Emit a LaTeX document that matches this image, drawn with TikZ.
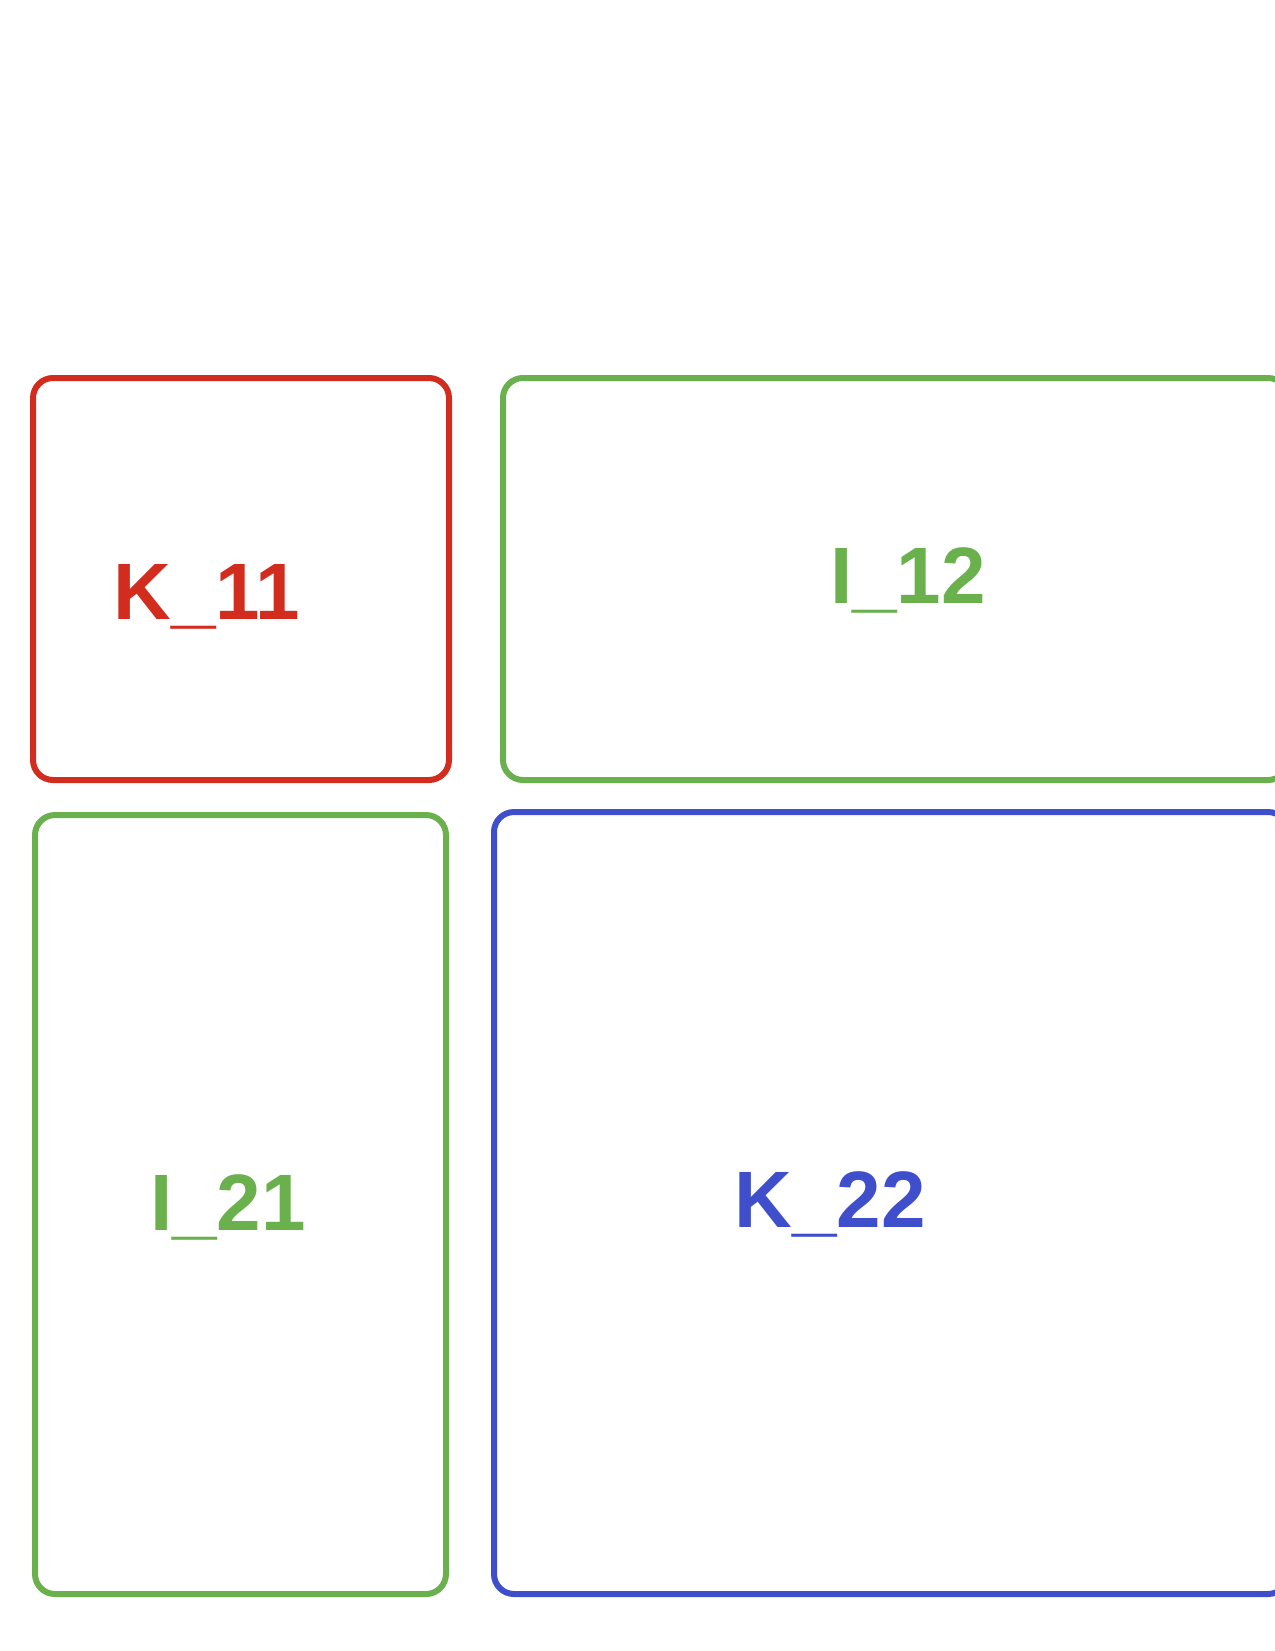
\documentclass[tikz,border=0pt]{standalone}
\usepackage{fontspec}
\setmainfont{Liberation Sans}
\usepackage{tikz}

\definecolor{blockred}{RGB}{210, 44, 31}
\definecolor{blockgreen}{RGB}{106, 176, 76}
\definecolor{blockblue}{RGB}{63, 79, 203}

\tikzset{
	block/.style = {line width = 3pt, rounded corners = 10pt},
	blocklabel/.style = {anchor = base, inner sep = 0pt, font = \fontsize{40}{48}\selectfont\bfseries}
}

\begin{document}
\begin{tikzpicture}[x = 0.5pt, y = -0.5pt]
	 \useasboundingbox (0, 0) rectangle (1275, 1651);
	 
	 \draw[block, blockred] (33, 378) rectangle (449, 780);
	 \draw[block, blockgreen] (503, 378) rectangle (1288, 780);
	 \draw[block, blockgreen] (35, 815) rectangle (446, 1594);
	 \draw[block, blockblue] (494, 812) rectangle (1288, 1594);
	 
	 \node[blocklabel, blockred] (k11) at (207, 619) {K\_11};
	 \node[blocklabel, blockgreen] (l12) at (908, 603) {I\_12};
	 \node[blocklabel, blockgreen] (l21) at (228, 1230) {I\_21};
	 \node[blocklabel, blockblue] (k22) at (830, 1227) {K\_22};
\end{tikzpicture}
\end{document}
